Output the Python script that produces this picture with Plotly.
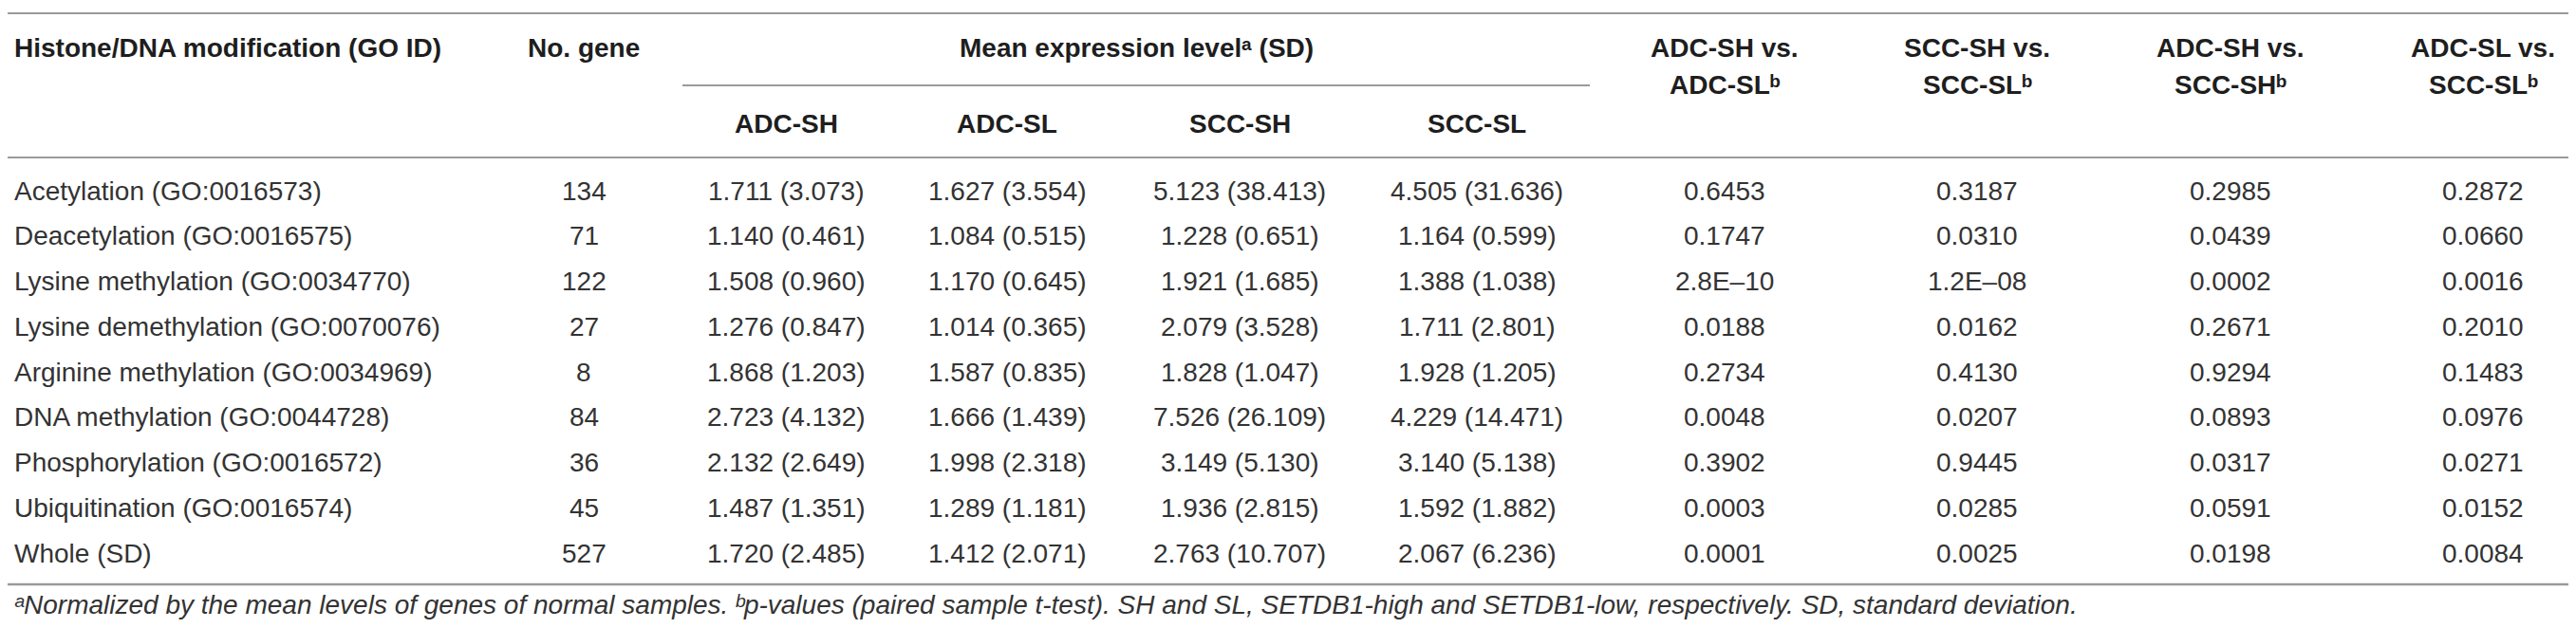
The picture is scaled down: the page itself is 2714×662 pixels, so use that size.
import plotly.graph_objects as go

# ---------------- data ----------------
row_labels = [
    "Acetylation (GO:0016573)",
    "Deacetylation (GO:0016575)",
    "Lysine methylation (GO:0034770)",
    "Lysine demethylation (GO:0070076)",
    "Arginine methylation (GO:0034969)",
    "DNA methylation (GO:0044728)",
    "Phosphorylation (GO:0016572)",
    "Ubiquitination (GO:0016574)",
    "Whole (SD)",
]
n_gene = [134, 71, 122, 27, 8, 84, 36, 45, 527]

adc_sh_mean = [1.711, 1.140, 1.508, 1.276, 1.868, 2.723, 2.132, 1.487, 1.720]
adc_sh_sd = [3.073, 0.461, 0.960, 0.847, 1.203, 4.132, 2.649, 1.351, 2.485]
adc_sl_mean = [1.627, 1.084, 1.170, 1.014, 1.587, 1.666, 1.998, 1.289, 1.412]
adc_sl_sd = [3.554, 0.515, 0.645, 0.365, 0.835, 1.439, 2.318, 1.181, 2.071]
scc_sh_mean = [5.123, 1.228, 1.921, 2.079, 1.828, 7.526, 3.149, 1.936, 2.763]
scc_sh_sd = [38.413, 0.651, 1.685, 3.528, 1.047, 26.109, 5.130, 2.815, 10.707]
scc_sl_mean = [4.505, 1.164, 1.388, 1.711, 1.928, 4.229, 3.140, 1.592, 2.067]
scc_sl_sd = [31.636, 0.599, 1.038, 2.801, 1.205, 14.471, 5.138, 1.882, 6.236]

p_adcsh_adcsl = ["0.6453", "0.1747", "2.8E\u201310", "0.0188", "0.2734", "0.0048", "0.3902", "0.0003", "0.0001"]
p_sccsh_sccsl = ["0.3187", "0.0310", "1.2E\u201308", "0.0162", "0.4130", "0.0207", "0.9445", "0.0285", "0.0025"]
p_adcsh_sccsh = ["0.2985", "0.0439", "0.0002", "0.2671", "0.9294", "0.0893", "0.0317", "0.0591", "0.0198"]
p_adcsl_sccsl = ["0.2872", "0.0660", "0.0016", "0.2010", "0.1483", "0.0976", "0.0271", "0.0152", "0.0084"]

SUP_A, SUP_B = "\u1d43", "\u1d47"
header_main = ["Histone/DNA modification (GO ID)", "No. gene"]
header_group = "Mean expression level" + SUP_A + " (SD)"
header_sub = ["ADC-SH", "ADC-SL", "SCC-SH", "SCC-SL"]
header_p_line1 = ["ADC-SH vs.", "SCC-SH vs.", "ADC-SH vs.", "ADC-SL vs."]
header_p_line2 = ["ADC-SL" + SUP_B, "SCC-SL" + SUP_B, "SCC-SH" + SUP_B, "SCC-SL" + SUP_B]
footnote = (SUP_A + "Normalized by the mean levels of genes of normal samples. "
            + SUP_B + "p-values (paired sample t-test). SH and SL, SETDB1-high and "
            "SETDB1-low, respectively. SD, standard deviation.")

# ---------------- layout constants ----------------
W, H = 2714, 662
FONT = "Liberation Sans, Arial, Helvetica, sans-serif"
BODY = dict(family=FONT, size=28, color="#333333")
BOLD = dict(family=FONT, size=28, color="#1e1e1e", weight="bold")
FOOT = dict(family=FONT, size=28, color="#333333", style="italic")
RULE = "#9a9a9a"

label_x = 6
gene_x = 607
mean_x = [820, 1053, 1298, 1548]
p_x = [1809, 2075, 2342, 2608]
row_y0, row_dy = 193, 47.75

ann = []


def add(x, y, text, font, xanchor="center"):
    ann.append(dict(x=x, y=y, xref="x", yref="y", text=text, showarrow=False,
                    xanchor=xanchor, yanchor="middle", font=font, borderpad=0))


# headers
add(label_x, 42, header_main[0], BOLD, "left")
add(gene_x, 42, header_main[1], BOLD)
add(1189, 42, header_group, BOLD)
for xx, t in zip(mean_x, header_sub):
    add(xx, 122, t, BOLD)
for xx, t1, t2 in zip(p_x, header_p_line1, header_p_line2):
    add(xx, 42, t1, BOLD)
    add(xx, 81, t2, BOLD)

# body
means = [(adc_sh_mean, adc_sh_sd), (adc_sl_mean, adc_sl_sd),
         (scc_sh_mean, scc_sh_sd), (scc_sl_mean, scc_sl_sd)]
pvals = [p_adcsh_adcsl, p_sccsh_sccsl, p_adcsh_sccsh, p_adcsl_sccsl]
for i, lab in enumerate(row_labels):
    y = row_y0 + i * row_dy
    add(label_x, y, lab, BODY, "left")
    add(gene_x, y, str(n_gene[i]), BODY)
    for xx, (m, s) in zip(mean_x, means):
        add(xx, y, f"{m[i]:.3f} ({s[i]:.3f})", BODY)
    for xx, p in zip(p_x, pvals):
        add(xx, y, p[i], BODY)

add(label_x, 629, footnote, FOOT, "left")

shapes = [
    dict(type="line", xref="x", yref="y", x0=0, x1=2708, y0=6, y1=6,
         line=dict(color=RULE, width=2)),
    dict(type="line", xref="x", yref="y", x0=711, x1=1667, y0=82, y1=82,
         line=dict(color=RULE, width=2)),
    dict(type="line", xref="x", yref="y", x0=0, x1=2708, y0=158, y1=158,
         line=dict(color=RULE, width=2)),
    dict(type="line", xref="x", yref="y", x0=0, x1=2708, y0=608, y1=608,
         line=dict(color=RULE, width=2.5)),
]

fig = go.Figure()
fig.update_layout(
    width=W, height=H, margin=dict(l=0, r=0, t=0, b=0),
    paper_bgcolor="white", plot_bgcolor="white",
    xaxis=dict(range=[0, W], visible=False, fixedrange=True),
    yaxis=dict(range=[H, 0], visible=False, fixedrange=True),
    annotations=ann, shapes=shapes, showlegend=False,
)
fig.write_html("out.html")
